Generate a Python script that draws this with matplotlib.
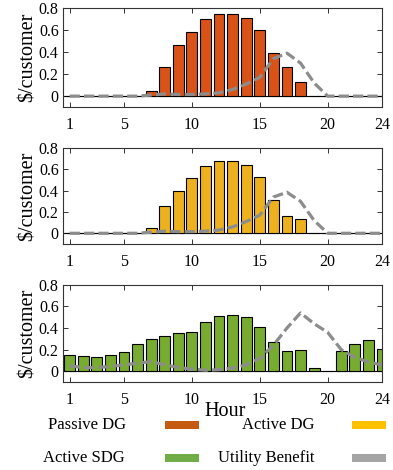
import numpy as np
import matplotlib.pyplot as plt
from matplotlib.patches import Rectangle

plt.rcParams['font.family'] = ['Liberation Serif', 'DejaVu Serif']

hours = list(range(1, 25))

passive_dg = [0, 0, 0, 0, 0, 0.003, 0.05, 0.26, 0.46, 0.58, 0.70, 0.745,
              0.745, 0.71, 0.60, 0.39, 0.26, 0.13, 0.004, 0, 0, 0, 0, 0]
utility_1 = [0, 0, 0, 0, 0, 0, 0.01, 0.02, 0.015, 0.015, 0.02, 0.03,
             0.06, 0.11, 0.17, 0.34, 0.39, 0.30, 0.12, 0, 0, 0, 0, 0]

active_dg = [0, 0, 0, 0, 0, 0.003, 0.05, 0.255, 0.40, 0.52, 0.635, 0.68,
             0.68, 0.645, 0.53, 0.31, 0.165, 0.13, 0.004, 0, 0, 0, 0, 0]
utility_2 = [0, 0, 0, 0, 0, 0, 0.01, 0.02, 0.015, 0.015, 0.02, 0.03,
             0.06, 0.11, 0.17, 0.34, 0.385, 0.30, 0.12, 0, 0, 0, 0, 0]

active_sdg = [0.15, 0.145, 0.13, 0.15, 0.18, 0.25, 0.295, 0.33, 0.355, 0.365, 0.46, 0.515,
              0.525, 0.50, 0.41, 0.27, 0.185, 0.20, 0.03, 0.004, 0.19, 0.25, 0.285, 0.205]
utility_3 = [0.05, 0.035, 0.035, 0.045, 0.06, 0.075, 0.09, 0.06, 0.035, 0.02, 0.01, 0.015,
             0.03, 0.06, 0.12, 0.24, 0.40, 0.54, 0.44, 0.36, 0.20, 0.13, 0.085, 0.06]

xticks = [1, 5, 10, 15, 20, 24]
yticks = [0, 0.2, 0.4, 0.6, 0.8]
ytick_labels = ['0', '0.2', '0.4', '0.6', '0.8']

panels = [
    (passive_dg, utility_1, '#D95319', [0.160, 0.772, 0.812, 0.211]),
    (active_dg, utility_2, '#EDB120', [0.160, 0.481, 0.812, 0.204]),
    (active_sdg, utility_3, '#77AC30', [0.160, 0.187, 0.812, 0.207]),
]

fig = plt.figure(figsize=(3.93, 4.70), dpi=100)

for bars, util, color, pos in panels:
    ax = fig.add_axes(pos)
    ax.bar(hours, bars, width=0.8, color=color, edgecolor='black', linewidth=0.8, zorder=2)
    ax.plot(hours, util, color='#8c8c8c', linestyle=(0, (3.2, 1.3)), linewidth=2.3, zorder=3)
    ax.axhline(0, color='black', linewidth=0.8, zorder=1)
    ax.set_xlim(0.5, 24)
    ax.set_ylim(-0.1, 0.8)
    ax.set_xticks(xticks)
    ax.set_xticklabels([str(t) for t in xticks])
    ax.set_yticks(yticks)
    ax.set_yticklabels(ytick_labels)
    ax.tick_params(direction='in', top=True, right=True, length=3.5, width=0.7,
                   labelsize=11.5, color='#333333')
    ax.tick_params(axis='x', pad=7)
    ax.tick_params(axis='y', pad=3)
    for s in ax.spines.values():
        s.set_linewidth(0.8)
        s.set_color('#333333')
    ax.set_ylabel('\\$/customer', fontsize=14.5, labelpad=1)

fig.text(225 / 393, 1 - 411 / 470, 'Hour', fontsize=14.5, ha='center', va='center')

# legend drawn by hand, two rows
legend_items = [
    ('Passive DG', '#C55A11', 126, 165, 425),
    ('Active DG', '#FFC000', 315, 352, 425),
    ('Active SDG', '#70AD47', 125, 165, 458),
    ('Utility Benefit', '#A5A5A5', 314, 352, 458),
]
for label, color, text_x, patch_x, y in legend_items:
    fig.text(text_x / 393, 1 - y / 470, label, fontsize=12, ha='right', va='center')
    fig.patches.append(Rectangle((patch_x / 393, 1 - (y + 4) / 470), 34 / 393, 8 / 470,
                                 transform=fig.transFigure, facecolor=color,
                                 edgecolor='none', figure=fig))

fig.savefig('out.png', dpi=100)
